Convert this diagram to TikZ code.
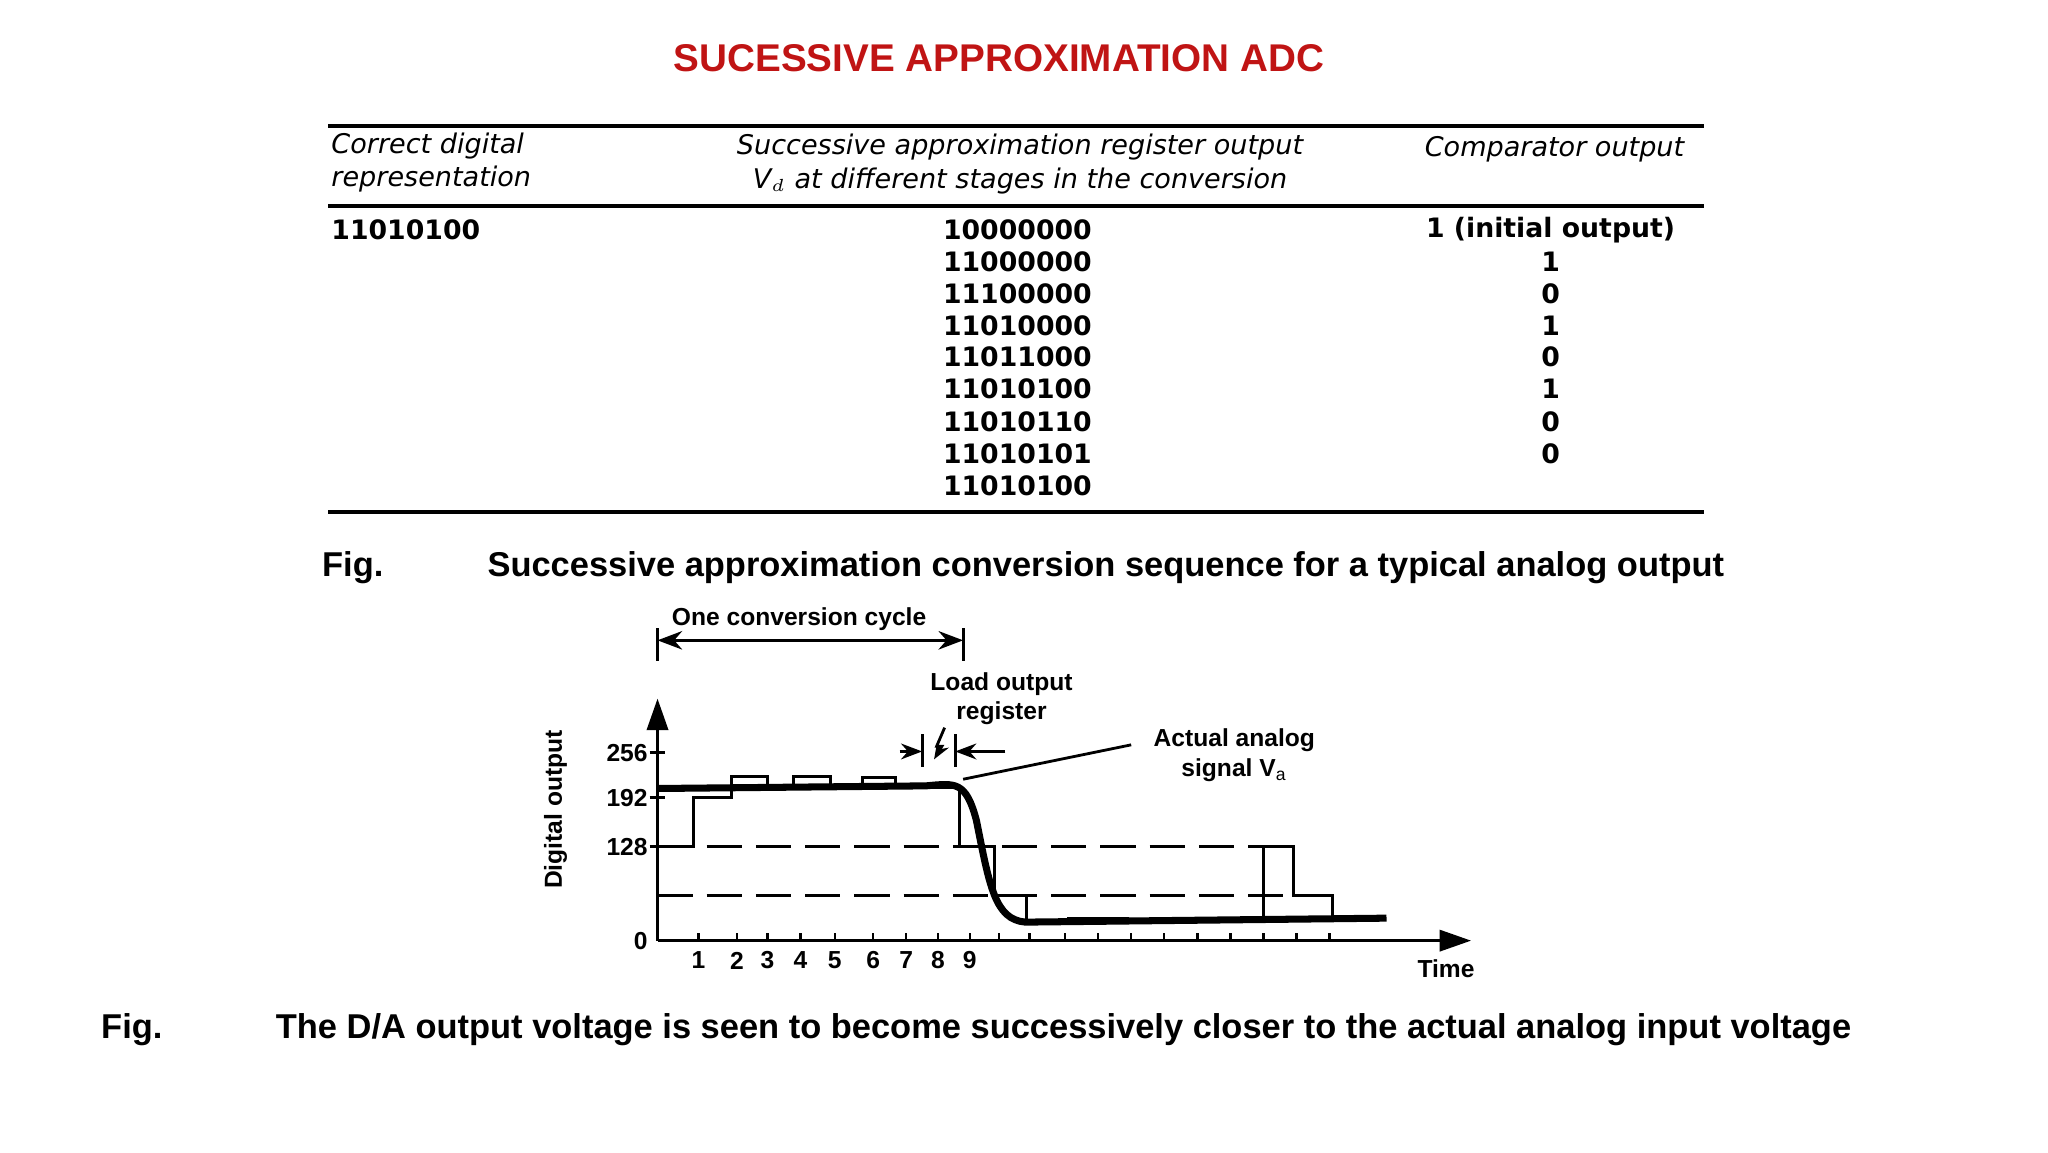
\documentclass[tikz,border=0pt]{standalone}
\usepackage{fontspec}
\setmainfont{Liberation Sans}
\newfontfamily\dv{DejaVu Sans}
\usetikzlibrary{arrows.meta}
\definecolor{titred}{RGB}{192,20,20}
\begin{document}
\begin{tikzpicture}[x=0.01323cm,y=-0.01323cm,
  tab/.style={font=\dv\bfseries\fontsize{7.6}{9}\selectfont,inner sep=0pt},
  hd/.style={font=\dv\itshape\fontsize{7.7}{9.4}\selectfont,inner sep=0pt},
  captxt/.style={font=\bfseries\fontsize{9.8}{12}\selectfont,inner sep=0pt,anchor=base west},
  gl/.style={font=\bfseries\fontsize{7}{8.4}\selectfont,inner sep=0pt},
  rule/.style={line width=1.1pt},
  sig/.style={line width=2pt},
  dig/.style={line width=0.9pt},
  dsh/.style={line width=0.9pt,dash pattern=on 10pt off 4pt}]
\useasboundingbox (0,0) rectangle (1548,871);
\node[font=\bfseries\fontsize{11}{13}\selectfont,text=titred] (title) at (755,44) {SUCESSIVE APPROXIMATION ADC};
% table
\coordinate (r1a) at (248,95); \coordinate (r1b) at (1288,95);
\coordinate (r2a) at (248,156); \coordinate (r2b) at (1288,156);
\coordinate (r3a) at (248,387); \coordinate (r3b) at (1288,387);
\draw[rule] (r1a) -- (r1b); \draw[rule] (r2a) -- (r2b); \draw[rule] (r3a) -- (r3b);
\node[hd,anchor=west,align=left] (h1) at (250,123) {Correct digital\\representation};
\node[hd,align=center] (h2) at (771,124) {Successive approximation register output\\V$_d$ at different stages in the conversion};
\node[hd] (h3) at (1175,113) {Comparator output};
\node[tab,anchor=west] (cd) at (250,174) {11010100};
\foreach \v/\c/\y [count=\i] in {10000000/1 (initial output)/174,11000000/1/198,11100000/0/222,11010000/1/246,11011000/0/270,11010100/1/294,11010110/0/319,11010101/0/343}{
  \node[tab] (s\i) at (769,\y) {\v};
  \node[tab] (c\i) at (1172,\y) {\c};
}
\node[tab] (s9) at (769,367) {11010100};
\node[captxt] (f1) at (243,436) {Fig.};
\node[captxt] (f1t) at (368,436) {Successive approximation conversion sequence for a typical analog output};
% graph
\coordinate (O) at (497,711);
\coordinate (ytop) at (497,528);
\coordinate (xend) at (1112,711);
\draw[line width=1pt,-{Triangle[length=9pt,width=6pt]}] (O) -- (ytop);
\draw[line width=1pt,-{Triangle[length=9pt,width=6pt]}] (O) -- (xend);
\node[gl,anchor=east] (l0) at (490,711) {0};
\node[gl,anchor=east] (l128) at (490,640) {128};
\node[gl,anchor=east] (l192) at (490,603) {192};
\node[gl,anchor=east] (l256) at (490,569) {256};
\foreach \y in {640,603,569} \draw[line width=0.8pt] (491,\y) -- (503,\y);
\node[gl,rotate=90] (dout) at (420,612) {Digital output};
\node[gl] (time) at (1093,732) {Time};
\foreach \x/\t in {528/1,557/2,580/3,605/4,631/5,660/6,685/7,709/8,733/9}{
  \draw[line width=0.7pt] (\x,711) -- (\x,705);
  \node[gl] at (\x,726) {\t};
}
\foreach \x in {755,778,805,830,855,880,905,930,955,980,1005}
  \draw[line width=0.7pt] (\x,711) -- (\x,705);
\draw[dsh] (497,640) -- (955,640);
\draw[dsh] (497,677) -- (1005,677);
% digital staircase
\draw[dig] (497,640) -- (524,640) |- (553,603) |- (580,587) |- (600,595) |- (628,587) |- (652,595) |- (677,588) |- (725,595)
  -- (725,640) -- (752,640) |- (776,677) |- (808,697) -- (808,694) -- (852,694) -- (852,696) -- (955,696) -- (955,640) -- (978,640) -- (978,677) -- (1007,677) -- (1007,694);
\draw[dig] (553,594) -- (580,594);
% analog signal
\draw[sig] (497,596) -- (700,594) .. controls (722,592) and (730,590) .. (738,620) .. controls (748,670) and (752,695) .. (775,697) -- (1048,694);
% annotations
\node[gl] (occ) at (604,468) {One conversion cycle};
\draw[line width=0.9pt] (497,475) -- (497,500);
\draw[line width=0.9pt] (728,475) -- (728,500);
\draw[line width=0.9pt,{Stealth[length=7pt]}-{Stealth[length=7pt]}] (497,484) -- (728,484);
\node[gl,align=center] (lor) at (757,528) {Load output\\register};
\draw[line width=0.8pt] (697,555) -- (697,580);
\draw[line width=0.8pt] (722,555) -- (722,580);
\draw[line width=0.8pt,-{Stealth[length=6pt]}] (680,568) -- (697,568);
\draw[line width=0.8pt,-{Stealth[length=6pt]}] (760,568) -- (722,568);
\draw[line width=0.8pt,-{Stealth[length=5pt]}] (714,550) -- (708,564) -- (712,564) -- (706,574);
\node[gl,align=center] (act) at (933,571) {Actual analog\\signal V$_{\mathrm a}$};
\draw[line width=0.8pt] (855,563) -- (728,589);
\node[captxt] (f2) at (76,785) {Fig.};
\node[captxt] (f2t) at (208,785) {The D/A output voltage is seen to become successively closer to the actual analog input voltage};
\end{tikzpicture}
\end{document}
